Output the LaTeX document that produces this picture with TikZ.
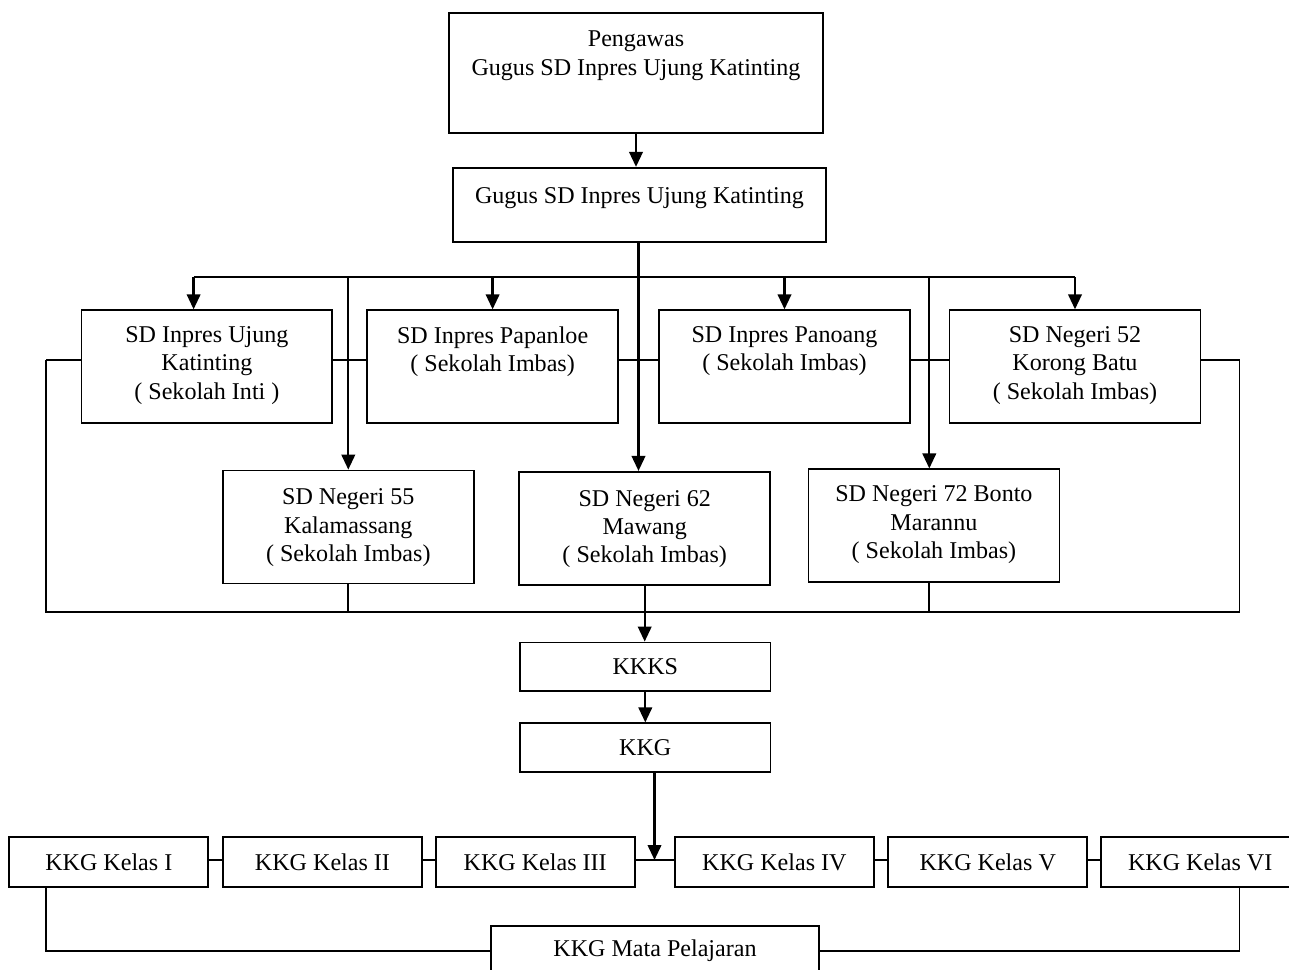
\documentclass[tikz,border=0pt]{standalone}
\usepackage{fontspec}
\setmainfont{Liberation Serif}
\usetikzlibrary{positioning,arrows.meta}

\tikzset{
    box/.style = {rectangle,
        draw = black,
        line width = 1pt,
        inner sep = 0pt,
        font = \fontsize{13.7}{16.1}\selectfont},
    txt/.style = {align = center,
        inner sep = 0pt,
        font = \fontsize{13.7}{16.1}\selectfont},
    arr/.style = {line width = 1.3pt, -{Triangle[length=0.3cm,width=0.27cm]}},
    lnk/.style = {line width = 1pt}
}

\begin{document}
\begin{tikzpicture}[x=0.02cm, y=-0.02cm]
\useasboundingbox (0,0) rectangle (1289,970);

\node[box,
    minimum width = 7.48cm,
    minimum height = 2.41cm] (peng) at (636,73) {};
\node[txt, below = 0.38cm of peng.north] (pengt) {Pengawas\\Gugus SD Inpres Ujung Katinting};

\node[box,
    minimum width = 7.46cm,
    minimum height = 1.49cm] (gugus) at (639.5,205) {};
\node[txt, below = 0.4cm of gugus.north] (gugust) {Gugus SD Inpres Ujung Katinting};

\node[box,
    minimum width = 5.02cm,
    minimum height = 2.26cm] (s1) at (206.9,366.7) {};
\node[txt, below = 0.34cm of s1.north] (s1t) {SD Inpres Ujung\\Katinting\\( Sekolah Inti )};

\node[box,
    minimum width = 5.02cm,
    minimum height = 2.26cm] (s2) at (492.6,366.7) {};
\node[txt, below = 0.34cm of s2.north] (s2t) {SD Inpres Papanloe\\( Sekolah Imbas)};

\node[box,
    minimum width = 5.02cm,
    minimum height = 2.26cm] (s3) at (784.5,366.7) {};
\node[txt, below = 0.34cm of s3.north] (s3t) {SD Inpres Panoang\\( Sekolah Imbas)};

\node[box,
    minimum width = 5.02cm,
    minimum height = 2.26cm] (s4) at (1075,366.7) {};
\node[txt, below = 0.34cm of s4.north] (s4t) {SD Negeri 52\\Korong Batu\\( Sekolah Imbas)};

\node[box,
    minimum width = 5.02cm,
    minimum height = 2.26cm] (s5) at (348.3,527) {};
\node[txt, below = 0.38cm of s5.north] (s5t) {SD Negeri 55\\Kalamassang\\( Sekolah Imbas)};

\node[box,
    minimum width = 5.02cm,
    minimum height = 2.26cm] (s6) at (644.7,528.3) {};
\node[txt, below = 0.38cm of s6.north] (s6t) {SD Negeri 62\\Mawang\\( Sekolah Imbas)};

\node[box,
    minimum width = 5.02cm,
    minimum height = 2.26cm] (s7) at (933.9,525.8) {};
\node[txt, below = 0.34cm of s7.north] (s7t) {SD Negeri 72 Bonto\\Marannu\\( Sekolah Imbas)};

\node[box,
    minimum width = 5.01cm,
    minimum height = 0.97cm] (kkks) at (645.3,666.7) {KKKS};

\node[box,
    minimum width = 5.01cm,
    minimum height = 0.98cm] (kkg) at (645.3,747.8) {KKG};

\node[box,
    minimum width = 3.98cm,
    minimum height = 0.99cm] (k1) at (108.8,862) {KKG Kelas I};
\node[box,
    minimum width = 3.98cm,
    minimum height = 0.99cm] (k2) at (322.5,862) {KKG Kelas II};
\node[box,
    minimum width = 3.98cm,
    minimum height = 0.99cm] (k3) at (535.2,862) {KKG Kelas III};
\node[box,
    minimum width = 3.98cm,
    minimum height = 0.99cm] (k4) at (774.4,862) {KKG Kelas IV};
\node[box,
    minimum width = 3.98cm,
    minimum height = 0.99cm] (k5) at (987.7,862) {KKG Kelas V};
\node[box,
    minimum width = 3.98cm,
    minimum height = 0.99cm] (k6) at (1200.2,862) {KKG Kelas VI};

\node[box,
    minimum width = 6.56cm,
    minimum height = 1cm] (mata) at (655,950.7) {KKG Mata Pelajaran};

\coordinate (bus) at (638.5,277);
\coordinate (a1) at (193.6,277);
\coordinate (a7) at (929.3,277);
\coordinate (lt) at (46.3,360);
\coordinate (rt) at (1239.5,360);
\coordinate (lb) at (46.3,611.7);
\coordinate (rb) at (1239.5,611.7);
\coordinate (kd) at (654.5,860);

\draw[arr] (peng.south) -- (peng.south |- gugus.north);
\draw[arr] (bus |- gugus.south) -- (bus |- s6.north);
\draw[lnk, line width = 1.3pt] (a1) -- (s4.north |- bus);
\draw[arr] (a1) -- (a1 |- s1.north);
\draw[arr] (s2.north |- bus) -- (s2.north);
\draw[arr] (s3.north |- bus) -- (s3.north);
\draw[arr] (s4.north |- bus) -- (s4.north);
\draw[arr] (s5.north |- bus) -- (s5.north);
\draw[arr] (a7) -- (a7 |- s7.north);

\draw[lnk] (lt) -- (s1.west |- lt);
\draw[lnk] (s1.east |- lt) -- (s2.west |- lt);
\draw[lnk] (s2.east |- lt) -- (s3.west |- lt);
\draw[lnk] (s3.east |- lt) -- (s4.west |- lt);
\draw[lnk] (s4.east |- rt) -- (rt) -- (rb) -- (lb) -- (lt);
\draw[lnk] (s5.south) -- (s5.south |- lb);
\draw[lnk] (a7 |- s7.south) -- (a7 |- lb);

\draw[arr] (s6.south) -- (s6.south |- kkks.north);
\draw[arr] (kkks.south) -- (kkg.north);
\draw[arr] (kd |- kkg.south) -- (kd);

\draw[lnk] (k1.east |- kd) -- (k2.west |- kd);
\draw[lnk] (k2.east |- kd) -- (k3.west |- kd);
\draw[lnk] (k3.east |- kd) -- (k4.west |- kd);
\draw[lnk] (k4.east |- kd) -- (k5.west |- kd);
\draw[lnk] (k5.east |- kd) -- (k6.west |- kd);
\draw[lnk] (k1.south -| lt) |- (mata.west);
\draw[lnk] (k6.south -| rt) |- (mata.east);
\end{tikzpicture}
\end{document}
